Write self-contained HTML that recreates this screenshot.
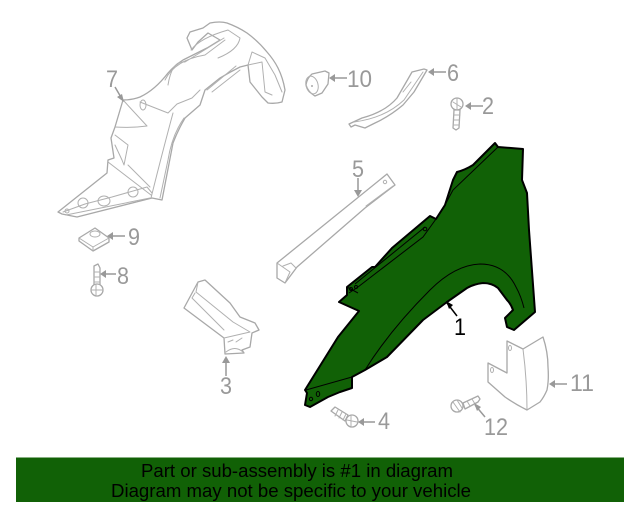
<!DOCTYPE html>
<html><head><meta charset="utf-8"><style>
html,body{margin:0;padding:0;background:#fff}
svg{display:block}
.g{fill:#fff;stroke:#a8a8a8;stroke-width:1.3;stroke-linejoin:round;stroke-linecap:round}
.l{fill:none;stroke:#b0b0b0;stroke-width:1;stroke-linejoin:round;stroke-linecap:round}
.a{fill:none;stroke:#999;stroke-width:1.5}
.h{fill:#999}
text{font-family:"Liberation Sans",sans-serif}
.t{font-size:24px;fill:#999}
</style></head><body>
<svg width="640" height="512" viewBox="0 0 640 512" xmlns="http://www.w3.org/2000/svg">
<rect width="640" height="512" fill="#fff"/>
<!-- part 7 inner fender -->
<path class="g" d="M58 212L107 173L108 160L114 158L111 138L115 127L123 100Q132 100 140 97Q155 90 168 73Q175 65 183 60L207 48L220 40L208 33L198 42L192 50L187 38L190 32L203 28L210 23Q220 21 227 23Q238 27 247 33Q258 41 267 52Q274 60 278 68Q283 78 285 90L282 102Q275 104 268 103L262 97L250 82L248 65L240 67Q230 72 220 78L205 90L200 105L185 118Q178 130 173 143L162 200L152 198L77 217L62 214Z"/>
<path class="l" d="M123 100L147 126Q132 128 115 127M140 102L168 113L177 104L192 98L200 90M173 113Q163 150 153 190L151 198M184 118Q172 135 168 160L160 198M115 135L128 145L124 165L122 160L115 145M108 162L151 195M128 165L150 187M63 212L85 204L112 197L147 187L152 193M66 215L150 198M191 50Q200 38 228 30L240 38Q238 50 218 58M165 80Q175 60 205 55L225 40M168 85Q172 60 185 62L224 38M207 90L236 66M212 92L240 70M248 65L252 52L265 58L275 75L282 92M262 62L265 92L272 95M248 65L262 62"/>
<ellipse class="l" cx="143" cy="105" rx="3" ry="5"/><circle class="l" cx="83" cy="203" r="5"/><ellipse class="l" cx="104" cy="201" rx="6" ry="5"/><circle class="l" cx="133" cy="192" r="5"/><circle class="l" cx="67" cy="211" r="2"/>
<path class="a" d="M115 87L122 99"/><path class="h" d="M124 102L117 97L122 94Z"/>
<text class="t" x="106" y="87" textLength="12" lengthAdjust="spacingAndGlyphs">7</text>
<!-- 10 -->
<path class="g" d="M312 74L325 71L329 73L328 84L322 93L315 96Q308 92 306 85Q307 78 312 74Z"/>
<ellipse class="l" cx="312" cy="85" rx="6" ry="9" transform="rotate(-15 312 85)"/>
<circle cx="312" cy="86" r="1" fill="#aaa"/>
<path class="a" d="M333 78L347 78"/><path class="h" d="M329 78L335 74V82Z"/>
<text class="t" x="347" y="87" textLength="25" lengthAdjust="spacingAndGlyphs">10</text>
<!-- 6 -->
<path class="g" d="M349 124L362 118Q385 112 397 98L408 79L412 72L424 69L427 70L414 92L403 105Q390 116 375 123L365 128L355 125L351 127Z"/>
<path class="l" d="M354 122Q385 118 404 100L423 72M403 92L411 82"/>
<path class="a" d="M433 72H446"/><path class="h" d="M428 72L434 68V76Z"/>
<text class="t" x="447" y="81" textLength="12" lengthAdjust="spacingAndGlyphs">6</text>
<!-- 2 -->
<circle class="g" cx="457" cy="104" r="6"/>
<path class="g" d="M454 110L460 110L459 128L456 130L453 128Z"/>
<path class="l" d="M453 102L461 107M457 98V110M454 115L460 115M454 120L459 120M453 125L459 125"/>
<path class="a" d="M470 106H483"/><path class="h" d="M465 106L471 102V110Z"/>
<text class="t" x="482" y="114" textLength="12" lengthAdjust="spacingAndGlyphs">2</text>
<!-- 5 -->
<path class="g" d="M387 174L395 185L365 208L297 267L285 283L277 278L277 263Z"/>
<path class="l" d="M277 263L290 272L285 283M283 266L291 263L296 268M366 206L393 186"/>
<circle class="l" cx="385" cy="182" r="1.7"/>
<path class="a" d="M358 178V191"/><path class="h" d="M358 197L354 190H362Z"/>
<text class="t" x="352" y="177" textLength="12" lengthAdjust="spacingAndGlyphs">5</text>
<!-- 3 -->
<path class="g" d="M184 308L198 282L205 280L230 303L240 317L255 323L259 330L252 333L250 347L242 350L244 353L225 354L224 338Z"/>
<path class="l" d="M195 293L192 298L224 330M198 282L196 292L233 322L250 332M224 338L250 332M228 342L233 340M236 342L242 338M226 352Q235 345 243 352"/>
<path class="a" d="M226 362V376"/><path class="h" d="M226 356L230 363H222Z"/>
<text class="t" x="220" y="394" textLength="12" lengthAdjust="spacingAndGlyphs">3</text>
<!-- 9 -->
<path class="g" d="M79 238L95 228L109 238L109 242L93 251L79 241Z"/>
<path class="l" d="M79 238L93 247L109 238M93 247V251"/><ellipse class="l" cx="95" cy="234" rx="5" ry="3"/>
<path class="a" d="M111 236H125"/><path class="h" d="M107 236L113 232V240Z"/>
<text class="t" x="128" y="245" textLength="12" lengthAdjust="spacingAndGlyphs">9</text>
<!-- 8 -->
<path class="g" d="M94 266L98 264L100 268L100 285L94 285Z"/>
<circle class="g" cx="97" cy="290" r="6"/>
<path class="l" d="M94 272H100M94 277H100M94 282H100M91 290H103M96 285V295"/>
<path class="a" d="M104 274H116"/><path class="h" d="M100 274L106 270V278Z"/>
<text class="t" x="117" y="284" textLength="12" lengthAdjust="spacingAndGlyphs">8</text>
<!-- 4 -->
<path class="g" d="M331 411L335 407L348 415L345 421Z"/>
<circle class="g" cx="352" cy="421" r="6"/>
<path class="l" d="M338 410L335 416M342 412L339 418M346 414L343 420M347 420L357 422M351 416V426"/>
<path class="a" d="M362 422H375"/><path class="h" d="M358 422L364 418V426Z"/>
<text class="t" x="378" y="429" textLength="12" lengthAdjust="spacingAndGlyphs">4</text>
<!-- 11 -->
<path class="g" d="M507 341L523 349L543 337Q548 352 548 367Q549 380 547 390Q544 397 540 402L527 410Q515 404 505 397L488 382L488 363L507 373Z"/>
<path class="l" d="M523 349Q527 380 527 410"/>
<ellipse class="l" cx="510" cy="348" rx="1.5" ry="2.5"/><ellipse class="l" cx="492" cy="370" rx="1.5" ry="2.5"/>
<path class="a" d="M553 384H567"/><path class="h" d="M549 384L555 380V388Z"/>
<text class="t" x="570" y="391" textLength="24" lengthAdjust="spacingAndGlyphs">11</text>
<!-- 12 -->
<path class="g" d="M463 403L478 396L480 399L478 402L465 409Z"/>
<circle class="g" cx="457" cy="406" r="6"/>
<path class="l" d="M453 402L460 412M457 400L462 408M467 401L470 406M472 399L475 404"/>
<path class="a" d="M475 405L485 417"/><path class="h" d="M474 403L481 407L477 411Z"/>
<text class="t" x="484" y="435" textLength="24" lengthAdjust="spacingAndGlyphs">12</text>
<!-- part 1 fender -->
<path fill="#116106" stroke="#000" stroke-width="2" stroke-linejoin="round" d="M495 143L498 147L523 149L522 180L527 193L529 230L535 312L514 330L507 327L505 318L513 310Q511 304 507 300L498 288Q492 283 483 283Q474 284 467 288L447 302L423 320L387 357L365 370L352 377L352 388L340 392L328 397L310 407L305 405L307 393L305 390L338 337L359 311L339 302L347 295L347 287L372 267L375 267L392 248L430 216L436 219L445 205L453 180L457 172Q465 170 473 165Z"/>
<path fill="none" stroke="#000" stroke-width="1" d="M365 370Q390 330 430 290Q455 265 480 264Q505 264 516 287Q521 296 524 308M498 147L453 190L445 205M306 390L352 377M349 293L358 287L423 237L436 219M355 284L425 227M347 287L358 293"/>
<circle cx="425" cy="229" r="1.8" fill="none" stroke="#000"/><circle cx="356" cy="287" r="1.5" fill="none" stroke="#000"/><circle cx="351" cy="289" r="1.5" fill="none" stroke="#000"/>
<ellipse cx="318" cy="394" rx="1.7" ry="2.5" fill="none" stroke="#000"/><circle cx="311" cy="399" r="1.7" fill="none" stroke="#000"/>
<path fill="none" stroke="#000" stroke-width="1.5" d="M447 303L457 316"/><path fill="#000" d="M446 301L453 305L449 309Z"/>
<text x="454" y="335" font-size="24" fill="#000" textLength="12" lengthAdjust="spacingAndGlyphs">1</text>
<!-- banner -->
<rect x="16" y="457.5" width="608" height="44.5" fill="#116106"/>
<text x="141" y="477" font-size="18" fill="#000" textLength="312" lengthAdjust="spacingAndGlyphs">Part or sub-assembly is #1 in diagram</text>
<text x="111" y="497" font-size="18" fill="#000" textLength="360" lengthAdjust="spacingAndGlyphs">Diagram may not be specific to your vehicle</text>
</svg>
</body></html>
